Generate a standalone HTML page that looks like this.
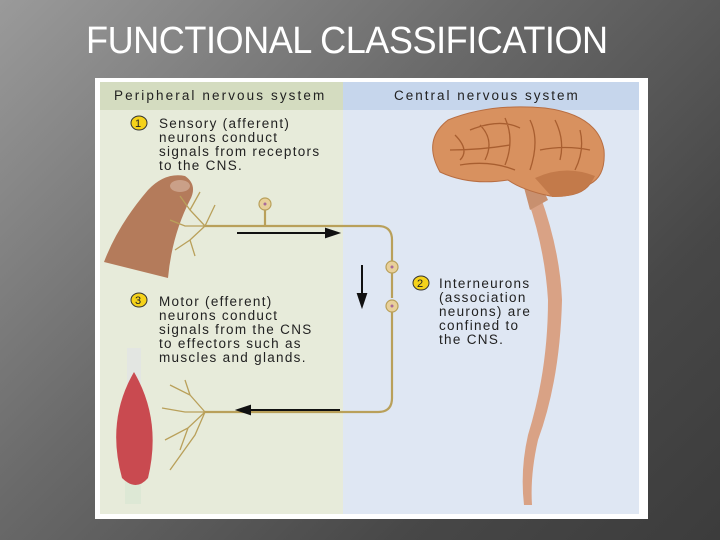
<!DOCTYPE html>
<html><head><style>
body{margin:0;width:720px;height:540px;overflow:hidden;background:linear-gradient(135deg,#9a9a9a 0%,#6a6a6a 40%,#474747 75%,#3c3c3c 100%);font-family:"Liberation Sans",sans-serif;position:relative}
.t{position:absolute;left:86px;top:20px;color:#fff;font-size:38px;letter-spacing:-0.5px;transform:scaleX(0.95);transform-origin:0 0;white-space:nowrap}
svg{position:absolute;left:0;top:0}
</style></head><body>
<div class="t">FUNCTIONAL CLASSIFICATION</div>
<svg width="720" height="540" font-family="Liberation Sans, sans-serif">
<rect x="95" y="78" width="553" height="441" fill="#fff"/>
<rect x="100" y="82" width="243" height="432" fill="#e7ebda"/>
<rect x="343" y="82" width="296" height="432" fill="#dfe7f3"/>
<rect x="100" y="82" width="243" height="28" fill="#d4dcc0"/>
<rect x="343" y="82" width="296" height="28" fill="#c6d6ec"/>
<text x="114" y="100" font-size="13.5" letter-spacing="2.1" fill="#222">Peripheral nervous system</text>
<text x="394" y="100" font-size="13.5" letter-spacing="2" fill="#222">Central nervous system</text>
<g font-size="13.5" letter-spacing="1.3" fill="#222">
<ellipse cx="139" cy="123" rx="8" ry="7" fill="#f5d21a" stroke="#333" stroke-width="1"/><text x="135" y="127" font-size="11" letter-spacing="0">1</text>
<text x="159" y="128">Sensory (afferent)</text><text x="159" y="142">neurons conduct</text><text x="159" y="156">signals from receptors</text><text x="159" y="170">to the CNS.</text>
<ellipse cx="139" cy="300" rx="8" ry="7" fill="#f5d21a" stroke="#333"/><text x="135" y="304" font-size="11" letter-spacing="0">3</text>
<text x="159" y="306">Motor (efferent)</text><text x="159" y="320">neurons conduct</text><text x="159" y="334">signals from the CNS</text><text x="159" y="348">to effectors such as</text><text x="159" y="362">muscles and glands.</text>
<ellipse cx="421" cy="283" rx="8" ry="7" fill="#f5d21a" stroke="#333"/><text x="417" y="287" font-size="11" letter-spacing="0">2</text>
<text x="439" y="288">Interneurons</text><text x="439" y="302">(association</text><text x="439" y="316">neurons) are</text><text x="439" y="330">confined to</text><text x="439" y="344">the CNS.</text>
</g>
<path d="M104 262 Q118 225 148 190 Q165 172 185 176 Q198 185 190 200 Q172 235 168 278 Z" fill="#b47b5b"/>
<ellipse cx="180" cy="186" rx="10" ry="6" fill="#caa088"/>
<rect x="127" y="348" width="14" height="36" fill="#e3e6e2"/>
<rect x="125" y="468" width="16" height="36" fill="#dde8d5"/>
<path d="M134 372 Q162 420 148 478 Q136 492 122 478 Q106 420 134 372 Z" fill="#c94a50"/>
<g fill="none" stroke="#b9a05a" stroke-width="2.2">
<path d="M205 226 H378 Q392 226 392 240 V262"/>
<path d="M265 210 V226"/>
<path d="M392 311 V398 Q392 412 378 412 H205"/>
<path d="M392 272 V298"/>
<g stroke-width="1.3"><path d="M205 226 L190 210 L180 196 M190 210 L200 192 M205 226 L185 226 L170 220 M205 226 L190 240 L175 250 M190 240 L195 256 M205 226 L215 205"/>
<path d="M205 412 L190 395 L170 385 M190 395 L185 380 M205 412 L185 412 L162 408 M205 412 L188 428 L165 440 M188 428 L180 450 M205 412 L195 435 L170 470"/></g>
</g>
<g fill="#e8d09a" stroke="#b9a05a" stroke-width="1.2">
<circle cx="265" cy="204" r="6"/><circle cx="392" cy="267" r="6"/><circle cx="392" cy="306" r="6"/></g>
<g fill="#a86a9a"><circle cx="265" cy="204" r="1.5"/><circle cx="392" cy="267" r="1.5"/><circle cx="392" cy="306" r="1.5"/></g>
<g stroke="#111" stroke-width="2" fill="#111">
<path d="M237 233 H330"/><path d="M338 233 L326 229 L326 237 Z"/>
<path d="M362 265 V298"/><path d="M362 306 L358 294 L366 294 Z"/>
<path d="M340 410 H247"/><path d="M238 410 L250 406 L250 414 Z"/>
</g>
<path d="M540 195 Q560 250 562 300 Q560 380 538 440 Q530 475 532 505 L524 505 Q520 470 528 435 Q548 370 548 300 Q545 250 528 200 Z" fill="#d9a285"/>
<path d="M522 180 Q542 185 548 200 L530 210 Z" fill="#c8906f"/>
<path d="M440 172 Q422 140 448 120 Q490 103 545 108 Q598 115 604 150 Q606 176 590 184 Q580 198 550 196 Q522 190 508 180 Q470 186 440 172 Z" fill="#d8915f" stroke="#b86e42" stroke-width="1"/>
<path d="M535 178 Q565 164 595 176 Q585 198 552 197 Z" fill="#c37a4a"/>
<g fill="none" stroke="#a85e30" stroke-width="1.3"><path d="M455 135 Q470 150 460 160 M480 125 Q495 140 485 160 M505 118 Q515 140 505 165 M530 120 Q540 140 530 170 M555 120 Q565 140 560 160 M580 130 Q585 150 575 170 M450 150 Q480 150 510 145 M470 130 Q500 118 520 128 M540 150 Q565 145 590 150 M460 165 Q490 160 515 170"/></g>
</svg>
</body></html>
